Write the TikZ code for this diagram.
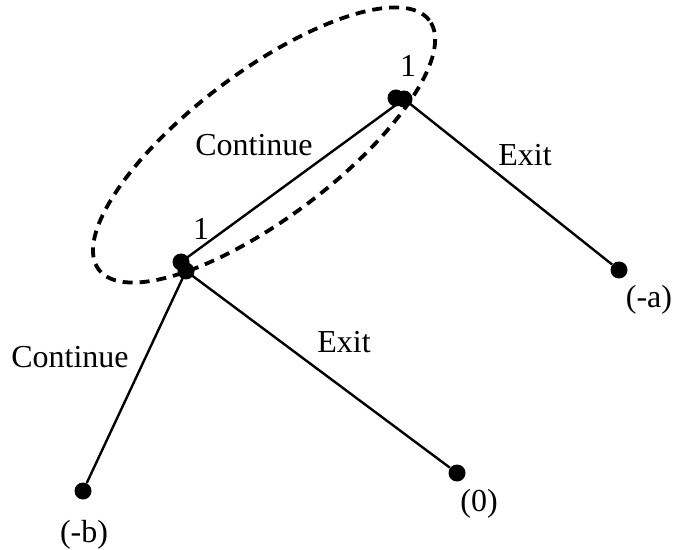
\documentclass[tikz,border=0pt]{standalone}
\usepackage{fontspec}
\setmainfont{Liberation Serif}
\begin{document}
\begin{tikzpicture}[x=0.5pt,y=-0.5pt,
  dot/.style={circle,fill=black,inner sep=0pt,minimum size=8.5pt},
  edge/.style={line width=1.2pt},
  lbl/.style={inner sep=0pt,font=\fontsize{16}{19}\selectfont},
  infoset/.style={line width=1.9pt,dash pattern=on 5pt off 3.5pt}]
\useasboundingbox (0,0) rectangle (673,550);
% decision nodes (drawn as pairs of overlapping dots)
\node[dot] (t1) at (396,98) {};
\node[dot] (t2) at (404,99) {};
\node[dot] (l1) at (181,262) {};
\node[dot] (l2) at (186,271) {};
% terminal nodes
\node[dot] (a) at (619,270) {};
\node[dot] (z) at (457,473) {};
\node[dot] (b) at (83,491) {};
% branches
\draw[edge] (t2.center) -- (l1.center);
\draw[edge] (t2.center) -- (a);
\draw[edge] (l2.center) -- (z);
\draw[edge] (l2.center) -- (b);
% information set
\coordinate (c) at (264,145);
\draw[infoset,rotate around={37:(c)}] (c) ellipse [x radius=103.5pt, y radius=36.5pt];
% labels
\node[lbl] (p1) at (408,66) {1};
\node[lbl] (p2) at (201,229) {1};
\node[lbl] (c1) at (254,145) {Continue};
\node[lbl] (e1) at (525,155) {Exit};
\node[lbl] (c2) at (70,357) {Continue};
\node[lbl] (e2) at (344,342) {Exit};
\node[lbl] (pa) at (649,300) {(-a)};
\node[lbl] (pz) at (479,504) {(0)};
\node[lbl] (pb) at (84,535) {(-b)};
\end{tikzpicture}
\end{document}
